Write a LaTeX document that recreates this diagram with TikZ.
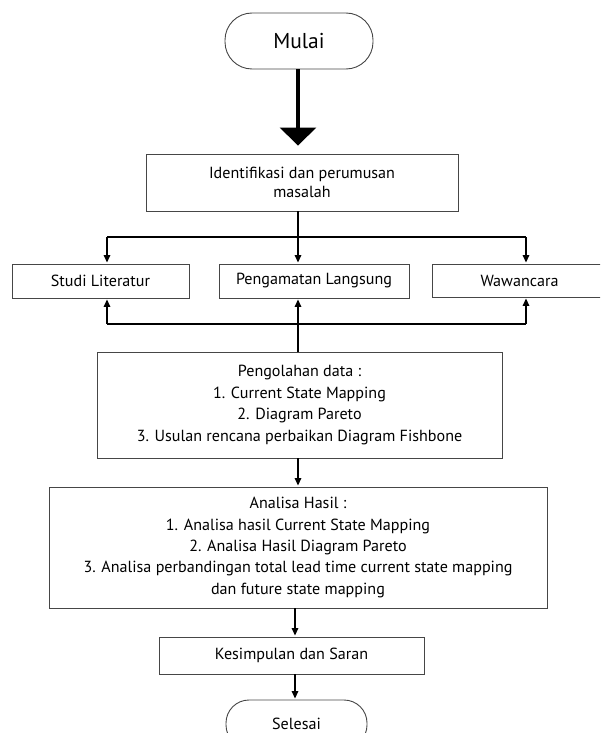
\documentclass[tikz,border=0pt]{standalone}
\usepackage{fontspec}
\setmainfont{PT Sans}
\usetikzlibrary{arrows.meta}
\definecolor{boxgray}{RGB}{70,70,70}
\begin{document}
\begin{tikzpicture}[x=1pt,y=-1pt,
  box/.style={draw=boxgray, line width=0.9pt, rectangle, inner sep=0pt,
    align=center, font=\fontsize{16.1}{21.4}\selectfont},
  term/.style={box, rounded corners=#1},
  link/.style={draw=black, line width=1.5pt},
  arr/.style={link, -{Triangle[width=6.5pt,length=7.5pt]}, shorten >=1pt},
  bigarr/.style={draw=black, line width=3.4pt, -{Triangle[width=36pt,length=18pt]}, shorten >=8pt}
]
\useasboundingbox (0,0) rectangle (600,733);
\clip (0,0) rectangle (600,733);

% guide coordinates for the vertical trunks and the two buses
\coordinate (trunk) at (298,0);
\coordinate (trunkb) at (295,0);
\coordinate (lft) at (107,0);
\coordinate (rgt) at (526,0);
\coordinate (bus1) at (0,237);
\coordinate (bus2) at (0,324);

% nodes
\node[term=27pt, minimum width=148pt, minimum height=56pt,
      font=\fontsize{21.5}{24}\selectfont] (mulai) at (299,41) {Mulai};
\node[box, minimum width=312pt, minimum height=57pt,
      font=\fontsize{16.1}{19}\selectfont] (ident) at (302,182.5)
      {Identifikasi dan perumusan\\masalah};
\node[box, minimum width=177pt, minimum height=34pt] (studi) at (100.5,281) {Studi Literatur};
\node[box, minimum width=190pt, minimum height=34pt] (amat) at (314,281) {Pengamatan Langsung};
\node[box, minimum width=175pt, minimum height=33pt] (wawan) at (519.5,280.5) {Wawancara};
\node[box, minimum width=405pt, minimum height=106pt] (olah) at (299.5,405)
      {Pengolahan data :\\1. Current State Mapping\\2. Diagram Pareto\\3. Usulan rencana perbaikan Diagram Fishbone};
\node[box, minimum width=498pt, minimum height=121pt] (analisa) at (298,547.5)
      {Analisa Hasil :\\1. Analisa hasil Current State Mapping\\2. Analisa Hasil Diagram Pareto\\3. Analisa perbandingan total lead time current state mapping\\dan future state mapping};
\node[box, minimum width=265pt, minimum height=37pt] (simpul) at (291.5,655.5) {Kesimpulan dan Saran};
\node[term=23pt, minimum width=141pt, minimum height=48pt] (selesai) at (296.5,724) {Selesai};

% start arrow
\draw[bigarr] (mulai.south -| trunk) -- (ident.north -| trunk);

% fan-out to the three data sources
\draw[link] (ident.south -| trunk) -- (trunk |- bus1);
\draw[link] (lft |- bus1) -- (rgt |- bus1);
\draw[arr] (lft |- bus1) -- (studi.north -| lft);
\draw[arr] (trunk |- bus1) -- (amat.north -| trunk);
\draw[arr] (rgt |- bus1) -- (wawan.north -| rgt);

% feedback from data processing
\draw[link] (lft |- bus2) -- (rgt |- bus2);
\draw[arr] (lft |- bus2) -- (studi.south -| lft);
\draw[arr] (rgt |- bus2) -- (wawan.south -| rgt);
\draw[arr] (olah.north -| trunk) -- (amat.south -| trunk);

% main flow downwards
\draw[arr] (olah.south -| trunk) -- (analisa.north -| trunk);
\draw[arr] (analisa.south -| trunkb) -- (simpul.north -| trunkb);
\draw[arr] (simpul.south -| trunkb) -- (selesai.north -| trunkb);
\end{tikzpicture}
\end{document}
